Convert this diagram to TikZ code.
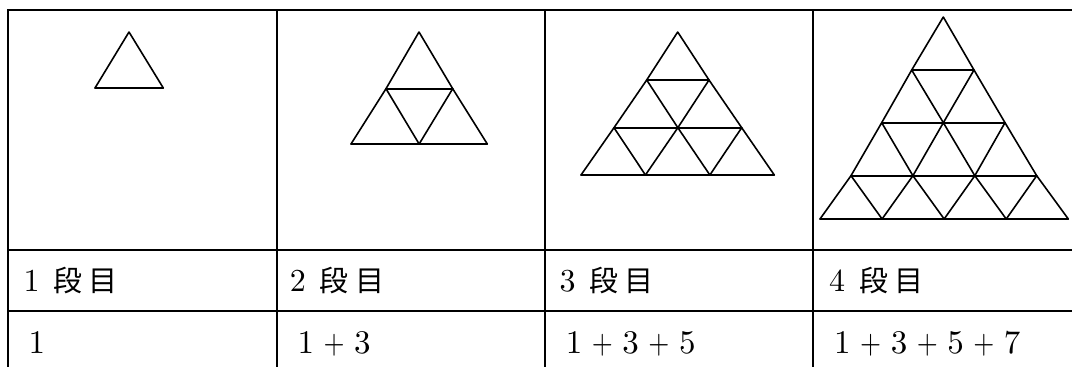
\documentclass[tikz,border=0pt]{standalone}
\usepackage{fontspec}
\usepackage{graphicx}
\setmainfont{lmroman10-regular.otf}
\newfontfamily\cjk{Noto Sans CJK JP}
\newcommand{\psp}{\hspace{9.5pt}}
\newcommand{\pl}{\scalebox{0.82}[1]{+}}
\newcommand{\dan}[1]{{\fontsize{32}{36}\selectfont #1}\hspace{14pt}{\cjk 段}\hspace{6.3pt}{\cjk 目}}
\newcommand{\trilevel}[5]{% name, k, y, xl, xr
  \foreach \i in {0,...,#2}{
    \pgfmathsetmacro{\xx}{#4+\i*(#5-#4)/max(#2,1)}
    \coordinate (#1-#2-\i) at (\xx,#3);
  }}
\newcommand{\trigrid}[2]{% name, n
  \pgfmathtruncatemacro{\nm}{#2-1}
  \foreach \k in {0,...,\nm}{
    \pgfmathtruncatemacro{\kk}{\k+1}
    \draw[tri line] (#1-\kk-0) -- (#1-\kk-\kk);
    \foreach \i in {0,...,\k}{
      \pgfmathtruncatemacro{\ii}{\i+1}
      \draw[tri line] (#1-\k-\i) -- (#1-\kk-\i) (#1-\k-\i) -- (#1-\kk-\ii);
    }
  }}
\tikzset{
  table line/.style={line width=2.2pt},
  tri line/.style={line width=1.6pt, line cap=round, line join=round},
  lab/.style={anchor=base west, inner sep=0pt, font=\fontsize{29}{34}\selectfont},
  sumlab/.style={anchor=base west, inner sep=0pt, font=\fontsize{33}{38}\selectfont},
}
\begin{document}
\begin{tikzpicture}[x=1pt, y=-1pt]
  \useasboundingbox (0,0) rectangle (1072,367);
  \fill[white] (0,0) rectangle (1072,367);
  % table
  \draw[table line] (1080,10) -- (8,10) -- (8,372);
  \foreach \x in {277,545,813}{\draw[table line] (\x,10) -- (\x,372);}
  \foreach \y in {250,311}{\draw[table line] (8,\y) -- (1080,\y);}
  % triangle 1
  \trilevel{A}{0}{32}{129}{129}
  \trilevel{A}{1}{88}{95}{163.3}
  \trigrid{A}{1}
  % triangle 2
  \trilevel{B}{0}{32}{419}{419}
  \trilevel{B}{1}{88.7}{386}{452.7}
  \trilevel{B}{2}{144}{351}{487.3}
  \trigrid{B}{2}
  % triangle 3
  \trilevel{C}{0}{32}{677.7}{677.7}
  \trilevel{C}{1}{80}{646.7}{709}
  \trilevel{C}{2}{127.7}{614}{741.7}
  \trilevel{C}{3}{175}{581}{774.3}
  \trigrid{C}{3}
  % triangle 4
  \trilevel{D}{0}{17}{943.3}{943.3}
  \trilevel{D}{1}{70}{911.7}{974}
  \trilevel{D}{2}{122.7}{881.7}{1005}
  \trilevel{D}{3}{175.7}{851}{1036.7}
  \trilevel{D}{4}{219}{820}{1068.3}
  \trigrid{D}{4}
  % row labels
  \node[lab] (l1) at (23.5,291.5) {\dan{1}};
  \node[lab] (l2) at (289.7,291.5) {\dan{2}};
  \node[lab] (l3) at (559.3,291.5) {\dan{3}};
  \node[lab] (l4) at (829,291.5) {\dan{4}};
  % sums
  \node[sumlab] (s1) at (28.4,353) {1};
  \node[sumlab] (s2) at (297.4,353) {1\psp\pl\psp3};
  \node[sumlab] (s3) at (565.7,353) {1\psp\pl\psp3\psp\pl\psp5};
  \node[sumlab] (s4) at (834,353) {1\psp\pl\psp3\psp\pl\psp5\psp\pl\psp7};
\end{tikzpicture}
\end{document}
